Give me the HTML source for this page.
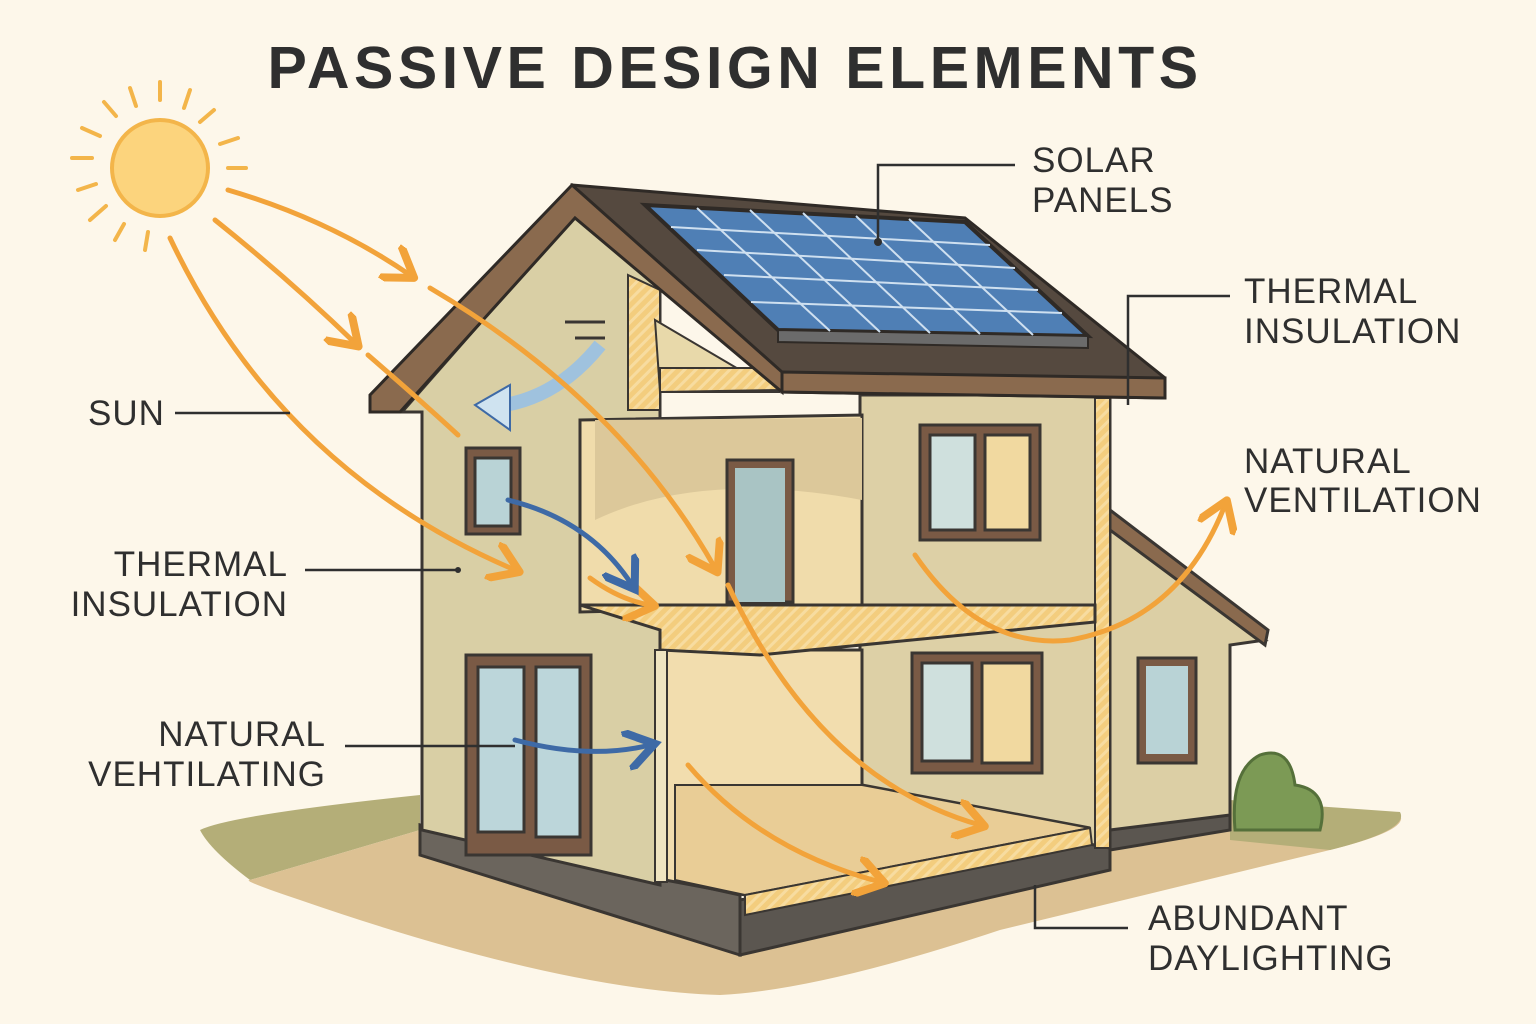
<!DOCTYPE html>
<html><head><meta charset="utf-8"><style>
html,body{margin:0;padding:0;background:#fdf7ea;}
svg{display:block}
text{font-family:"Liberation Sans",sans-serif;fill:#2f2f2f}
</style></head><body>
<svg width="1536" height="1024" viewBox="0 0 1536 1024">
<defs>
<marker id="ao" markerWidth="8" markerHeight="8" refX="5" refY="4" orient="auto" markerUnits="strokeWidth"><path d="M0,0 L6,4 L0,8" fill="none" stroke="#f2a33a" stroke-width="1.6" stroke-linejoin="round"/></marker>
<marker id="ab" markerWidth="8" markerHeight="8" refX="5" refY="4" orient="auto" markerUnits="strokeWidth"><path d="M0,0 L6,4 L0,8" fill="none" stroke="#3e6aa6" stroke-width="1.6"/></marker>
<pattern id="ins" width="8" height="8" patternUnits="userSpaceOnUse" patternTransform="rotate(45)"><rect width="8" height="8" fill="#f3cd7e"/><rect width="3" height="8" fill="#f7dca0"/></pattern>
</defs>
<rect width="1536" height="1024" fill="#fdf7ea"/>
<text x="735" y="88" text-anchor="middle" font-size="59" font-weight="bold" letter-spacing="4.5">PASSIVE DESIGN ELEMENTS</text>
<!-- ground -->
<path d="M200,830 Q230,815 420,795 L420,830 L250,880 Q210,850 200,830Z" fill="#b4ae78"/>
<path d="M420,830 L740,900 L1230,815 L1400,815 Q1410,830 1330,850 L1000,930 Q820,990 720,995 Q560,990 300,900 Q240,880 250,880Z" fill="#dcc193"/>
<path d="M1230,800 L1400,812 Q1410,830 1330,850 L1230,840Z" fill="#b4ae78"/>
<!-- bush -->
<path d="M1235,830 Q1230,770 1260,755 Q1290,745 1295,785 Q1330,790 1320,830Z" fill="#7c9a55" stroke="#55703a" stroke-width="3"/>
<!-- foundation -->
<path d="M420,825 L740,895 L740,955 L1110,870 L1110,850 L1230,830 L1230,812 L1110,828 L740,900 L420,830Z" fill="#5b5650" stroke="#3a3632" stroke-width="3"/>
<path d="M420,825 L740,895 L740,955 L420,855Z" fill="#6b655d" stroke="#3a3632" stroke-width="3"/>
<!-- annex -->
<path d="M1110,520 L1265,640 L1230,645 L1230,815 L1110,830Z" fill="#dccfa5" stroke="#3a3632" stroke-width="3"/>
<path d="M1110,510 L1268,630 L1265,645 L1110,530Z" fill="#8a6a4e" stroke="#3a3632" stroke-width="3"/>
<rect x="1138" y="658" width="58" height="105" fill="#7a5a45" stroke="#3a3632" stroke-width="3"/>
<rect x="1146" y="666" width="42" height="88" fill="#b9d3d6"/>
<!-- right wall -->
<path d="M860,395 L1110,395 L1110,848 L860,800Z" fill="#ddd0a6" stroke="#3a3632" stroke-width="3"/>
<rect x="1095" y="398" width="15" height="450" fill="url(#ins)" stroke="#3a3632" stroke-width="2"/>
<!-- left wall -->
<path d="M422,412 L402,412 L575,215 L660,285 L660,885 L422,830Z" fill="#d9cfa5" stroke="#3a3632" stroke-width="3"/>
<!-- upper room cutaway -->
<path d="M580,420 L862,415 L862,605 L580,612Z" fill="#f0dcab" stroke="#3a3632" stroke-width="3"/>
<path d="M595,420 L862,418 L862,500 Q700,470 595,520Z" fill="#dcc89a"/>
<rect x="727" y="460" width="66" height="142" fill="#7a5a45" stroke="#3a3632" stroke-width="3"/>
<rect x="735" y="468" width="50" height="134" fill="#a9c4c4"/>
<!-- lower room -->
<path d="M660,650 L862,650 L862,785 L1090,828 L745,895 L665,880Z" fill="#f2ddae" stroke="#3a3632" stroke-width="3"/>
<path d="M675,785 L862,785 L1090,828 L745,895 L675,880Z" fill="#e9cd96" stroke="#3a3632" stroke-width="2"/>
<path d="M745,895 L1090,828 L1092,845 L745,915Z" fill="url(#ins)" stroke="#3a3632" stroke-width="2"/>
<!-- floor slab -->
<path d="M580,605 L1095,605 L1095,622 L760,655 L660,650 L660,630 Z" fill="url(#ins)" stroke="#3a3632" stroke-width="3"/>
<rect x="655" y="650" width="12" height="232" fill="#efe4c0" stroke="#3a3632" stroke-width="2"/>
<!-- attic -->
<path d="M628,275 L660,290 L660,410 L628,410Z" fill="url(#ins)" stroke="#3a3632" stroke-width="2"/>
<path d="M655,320 L740,370 L780,392 L660,392Z" fill="#e8d9aa" stroke="#3a3632" stroke-width="2"/>
<path d="M660,368 L770,368 L780,390 L660,392Z" fill="url(#ins)" stroke="#3a3632" stroke-width="2"/>
<!-- roof -->
<path d="M572,185 L965,218 L1165,378 L1165,398 L782,392 L572,212Z" fill="#55493f" stroke="#2f2a26" stroke-width="3"/>
<path d="M782,372 L1165,378 L1165,398 L782,392Z" fill="#8a6a4e" stroke="#2f2a26" stroke-width="3"/>
<path d="M572,185 L370,395 L370,412 L400,412 L575,218 L782,392 L782,372Z" fill="#8a6a4e" stroke="#2f2a26" stroke-width="3"/>
<!-- solar panel -->
<path d="M645,205 L965,222 L1088,336 L778,330Z" fill="#4f7fb5" stroke="#2f2a26" stroke-width="4"/>
<path d="M778,330 L1088,336 L1088,348 L778,342Z" fill="#6b6b6b" stroke="#2f2a26" stroke-width="2"/>
<g stroke="#cfe0f0" stroke-width="2">
<line x1="671" y1="227" x2="990" y2="245"/><line x1="697" y1="250" x2="1015" y2="268"/><line x1="724" y1="275" x2="1038" y2="290"/><line x1="751" y1="302" x2="1062" y2="313"/>
<line x1="697" y1="208" x2="830" y2="331"/><line x1="750" y1="210" x2="880" y2="332"/><line x1="803" y1="213" x2="930" y2="333"/><line x1="856" y1="216" x2="980" y2="334"/><line x1="909" y1="219" x2="1033" y2="335"/>
</g>
<!-- windows -->
<g stroke="#3a3632" stroke-width="3">
<rect x="466" y="448" width="54" height="86" fill="#7a5a45"/><rect x="475" y="458" width="36" height="68" fill="#b9d3d6"/>
<rect x="466" y="655" width="125" height="200" fill="#7a5a45"/><rect x="478" y="667" width="46" height="165" fill="#bcd6da"/><rect x="536" y="667" width="44" height="170" fill="#bcd6da"/>
<rect x="920" y="425" width="120" height="115" fill="#7a5a45"/><rect x="930" y="435" width="45" height="95" fill="#cfe0dd"/><rect x="985" y="435" width="45" height="95" fill="#f1d9a0"/>
<rect x="912" y="653" width="130" height="120" fill="#7a5a45"/><rect x="922" y="663" width="50" height="98" fill="#cfe0dd"/><rect x="982" y="663" width="50" height="100" fill="#f1d9a0"/>
</g>
<!-- vent symbol -->
<g stroke="#3a3632" stroke-width="3"><line x1="565" y1="322" x2="605" y2="322"/><line x1="575" y1="338" x2="605" y2="338"/></g>
<path d="M600,345 Q560,395 505,405" fill="none" stroke="#9fc2de" stroke-width="14"/>
<path d="M475,405 L510,385 L510,430Z" fill="#cfe3f0" stroke="#3e6aa6" stroke-width="2"/>
<!-- sun -->
<circle cx="160" cy="168" r="48" fill="#fcd47d" stroke="#f3b54a" stroke-width="4"/>
<g stroke="#f3b54a" stroke-width="4" stroke-linecap="round">
<line x1="72" y1="158" x2="92" y2="158"/><line x1="228" y1="168" x2="246" y2="168"/><line x1="160" y1="82" x2="160" y2="100"/><line x1="190" y1="90" x2="184" y2="108"/><line x1="130" y1="88" x2="136" y2="106"/><line x1="104" y1="102" x2="116" y2="116"/><line x1="214" y1="110" x2="200" y2="122"/><line x1="82" y1="128" x2="100" y2="136"/><line x1="238" y1="138" x2="220" y2="144"/><line x1="78" y1="190" x2="96" y2="184"/><line x1="90" y1="220" x2="106" y2="206"/><line x1="115" y1="240" x2="124" y2="224"/><line x1="145" y1="250" x2="148" y2="232"/>
</g>
<!-- orange arrows -->
<g fill="none" stroke="#f2a33a" stroke-width="5" stroke-linecap="round">
<path d="M228,190 Q330,220 410,275" marker-end="url(#ao)"/>
<path d="M215,220 Q290,280 355,343" marker-end="url(#ao)"/>
<path d="M170,238 Q280,470 515,570" marker-end="url(#ao)"/>
<path d="M368,355 Q420,400 458,435"/>
<path d="M430,288 Q620,400 715,568" marker-end="url(#ao)"/>
<path d="M728,585 Q820,780 980,825" marker-end="url(#ao)"/>
<path d="M688,765 Q760,850 880,882" marker-end="url(#ao)"/>
<path d="M590,578 Q620,600 650,605" marker-end="url(#ao)"/>
<path d="M915,555 Q980,650 1070,640 Q1180,620 1225,505" marker-end="url(#ao)"/>
</g>
<g fill="none" stroke="#3e6aa6" stroke-width="5" stroke-linecap="round">
<path d="M508,500 Q590,520 632,585" marker-end="url(#ab)"/>
<path d="M515,740 Q590,760 650,745" marker-end="url(#ab)"/>
</g>
<!-- leaders -->
<g stroke="#2f2f2f" stroke-width="2.5" fill="none">
<path d="M1015,165 L878,165 L878,242"/>
<path d="M1230,296 L1128,296 L1128,405"/>
<path d="M175,413 L290,413"/>
<path d="M305,570 L458,570"/>
<path d="M345,746 L515,746"/>
<path d="M1128,928 L1035,928 L1035,885"/>
</g>
<circle cx="878" cy="242" r="4" fill="#2f2f2f"/><circle cx="458" cy="570" r="3" fill="#2f2f2f"/>
<!-- labels -->
<g font-size="35" letter-spacing="1">
<text x="1032" y="172">SOLAR</text><text x="1032" y="212">PANELS</text>
<text x="1244" y="303">THERMAL</text><text x="1244" y="343">INSULATION</text>
<text x="1244" y="473">NATURAL</text><text x="1244" y="512">VENTILATION</text>
<text x="88" y="425">SUN</text>
<text x="288" y="576" text-anchor="end">THERMAL</text><text x="288" y="616" text-anchor="end">INSULATION</text>
<text x="326" y="746" text-anchor="end">NATURAL</text><text x="326" y="786" text-anchor="end">VEHTILATING</text>
<text x="1148" y="930">ABUNDANT</text><text x="1148" y="970">DAYLIGHTING</text>
</g>
</svg>
</body></html>
